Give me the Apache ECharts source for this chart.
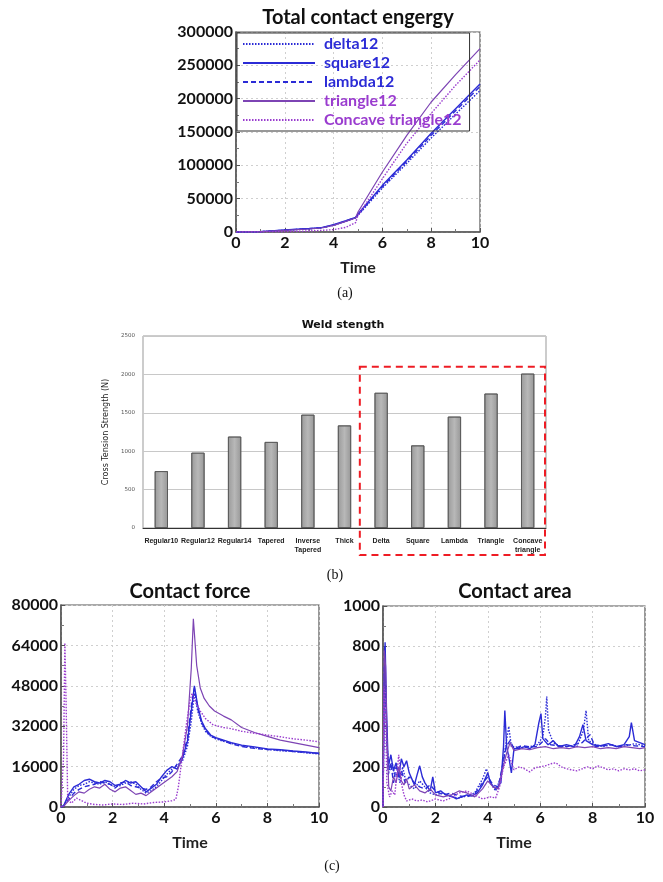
<!DOCTYPE html>
<html><head><meta charset="utf-8">
<script src="https://cdn.jsdelivr.net/npm/echarts@6/dist/echarts.min.js"></script>
<style>html,body{margin:0;padding:0;background:#fff}#c{width:663px;height:882px}</style>
</head><body><div id="c"></div>
<script>
// ---------- (a) Total contact energy ----------
const energyTime = [0,1,2,3,3.5,4,4.5,4.9,5,6,7,8,9,10];
const energyDelta = [0,400,2800,4800,6000,10000,16000,21000,25000,66000,103000,141000,177000,212000];
const energySquare = [0,500,3000,5200,6500,11000,17000,22000,27000,70000,108000,148000,185000,222000];
const energyLambda = [0,450,2900,5000,6300,10500,16500,21500,26000,68000,106000,145000,182000,218000];
const energyTriangle = [0,500,2500,4500,6000,10000,16000,21000,30000,90000,145000,195000,236000,275000];
const energyConcave = [0,0,500,1500,2500,3500,7000,14000,25000,80000,133000,178000,220000,258000];
const seriesNames = ['delta12','square12','lambda12','triangle12','Concave triangle12'];

// ---------- (b) Weld strength ----------
const weldCategories = ['Regular10','Regular12','Regular14','Tapered','Inverse\nTapered','Thick','Delta','Square','Lambda','Triangle','Concave\ntriangle'];
const weldValues = [740,980,1190,1120,1475,1335,1760,1075,1450,1750,2010];

// ---------- (c) Contact force ----------
const forceDelta = [[0,0],[0.1,300],[0.3,4000],[0.5,7000],[0.7,8500],[0.9,9000],[1.1,10000],[1.3,9500],[1.5,9000],[1.7,10000],[1.9,9000],[2.1,8000],[2.3,8500],[2.5,9500],[2.7,10000],[2.9,9000],[3.1,7000],[3.3,5500],[3.5,6500],[3.7,8000],[3.9,10500],[4.1,13000],[4.3,15000],[4.5,16500],[4.7,18000],[4.9,24000],[5.05,34000],[5.17,45000],[5.3,38000],[5.45,33000],[5.6,30000],[5.8,28000],[6.0,27000],[6.3,26000],[6.6,25200],[7.0,24200],[7.5,23500],[8.0,22800],[8.5,22300],[9.0,22000],[9.5,21500],[10,21000]];
const forceSquare = [[0,0],[0.1,500],[0.3,5000],[0.5,8000],[0.7,9000],[0.9,10500],[1.1,11000],[1.3,10000],[1.5,9500],[1.7,10500],[1.9,10000],[2.1,8500],[2.3,9000],[2.5,10500],[2.7,9500],[2.9,10000],[3.1,8000],[3.3,6000],[3.5,7500],[3.7,9000],[3.9,12000],[4.1,14500],[4.3,16000],[4.5,15000],[4.7,19000],[4.9,26000],[5.05,38000],[5.17,48000],[5.3,40000],[5.45,34000],[5.6,31000],[5.8,28500],[6.0,27500],[6.3,26500],[6.6,25500],[7.0,24500],[7.5,23800],[8.0,23000],[8.5,22700],[9.0,22200],[9.5,21800],[10,21200]];
const forceLambda = [[0,0],[0.1,400],[0.3,3000],[0.5,5500],[0.7,7000],[0.9,8000],[1.1,8500],[1.3,9000],[1.5,10000],[1.7,9500],[1.9,9000],[2.1,7500],[2.3,9500],[2.5,10000],[2.7,8500],[2.9,8000],[3.1,7500],[3.3,7000],[3.5,8000],[3.7,10000],[3.9,11500],[4.1,12000],[4.3,14000],[4.5,17000],[4.7,20000],[4.9,27000],[5.05,40000],[5.17,47000],[5.3,39000],[5.45,33500],[5.6,30500],[5.8,28000],[6.0,27200],[6.3,26200],[6.6,25000],[7.0,24000],[7.5,23200],[8.0,22800],[8.5,22500],[9.0,22000],[9.5,21600],[10,21300]];
const forceTriangle = [[0,0],[0.1,300],[0.3,2500],[0.5,4500],[0.7,6000],[0.9,5500],[1.1,7000],[1.3,8000],[1.5,7500],[1.7,9000],[1.9,7000],[2.1,6000],[2.3,7500],[2.5,8000],[2.7,6500],[2.9,5000],[3.1,5500],[3.3,4500],[3.5,6000],[3.7,7500],[3.9,9000],[4.1,10500],[4.3,12000],[4.5,14000],[4.7,20000],[4.9,32000],[5.05,55000],[5.13,74500],[5.26,56000],[5.4,47000],[5.55,43000],[5.75,40000],[5.95,38000],[6.3,36000],[6.6,34500],[7.0,31500],[7.5,29500],[8.0,28000],[8.5,26500],[9.0,25500],[9.5,24500],[10,23500]];
const forceConcave = [[0,0],[0.1,20000],[0.15,65000],[0.2,40000],[0.26,3000],[0.4,1500],[0.6,3500],[0.8,2500],[1.0,1500],[1.3,1000],[1.6,800],[2.0,1200],[2.4,1000],[2.8,1500],[3.2,1200],[3.6,1800],[4.0,2000],[4.3,2500],[4.45,3000],[4.55,8000],[4.7,20000],[4.85,32000],[5.0,42000],[5.08,45000],[5.2,42000],[5.4,38000],[5.6,35000],[5.9,32500],[6.3,31500],[6.6,31000],[7.0,30000],[7.5,29200],[8.0,28500],[8.5,27800],[9.0,27000],[9.5,26500],[10,25800]];

// ---------- (c) Contact area ----------
const areaDelta = [[0,0],[0.05,700],[0.1,600],[0.15,300],[0.25,180],[0.35,220],[0.45,150],[0.55,170],[0.65,120],[0.75,200],[0.85,140],[1.0,110],[1.2,90],[1.4,130],[1.6,100],[1.8,70],[2.0,60],[2.3,70],[2.6,50],[2.9,45],[3.2,55],[3.5,70],[3.8,140],[3.95,190],[4.1,120],[4.3,80],[4.5,150],[4.7,320],[4.8,400],[4.9,300],[5.0,300],[5.3,295],[5.6,300],[5.9,310],[6.1,350],[6.2,450],[6.25,550],[6.32,380],[6.5,320],[6.8,300],[7.1,305],[7.4,300],[7.65,380],[7.75,480],[7.85,330],[8.1,310],[8.4,300],[8.7,310],[9.0,300],[9.3,305],[9.6,315],[10,305]];
const areaSquare = [[0,0],[0.04,500],[0.08,820],[0.13,500],[0.2,200],[0.3,260],[0.4,180],[0.5,220],[0.6,150],[0.7,240],[0.8,200],[0.9,230],[1.0,170],[1.1,140],[1.2,110],[1.3,160],[1.4,205],[1.5,150],[1.6,120],[1.7,100],[1.8,80],[1.9,150],[2.0,70],[2.2,80],[2.4,60],[2.6,55],[2.8,40],[3.0,50],[3.2,60],[3.4,55],[3.6,70],[3.8,110],[4.0,170],[4.1,120],[4.3,90],[4.5,120],[4.6,300],[4.65,480],[4.72,300],[4.8,250],[4.9,170],[5.0,290],[5.2,290],[5.4,300],[5.6,290],[5.8,310],[5.95,420],[6.03,465],[6.1,340],[6.3,310],[6.5,330],[6.7,300],[7.0,310],[7.3,300],[7.5,350],[7.63,410],[7.75,330],[8.0,310],[8.3,305],[8.6,315],[8.9,300],[9.2,310],[9.4,350],[9.48,420],[9.6,330],[9.8,320],[10,310]];
const areaLambda = [[0,0],[0.06,800],[0.12,450],[0.2,160],[0.3,220],[0.4,120],[0.5,200],[0.6,140],[0.7,180],[0.85,120],[1.0,150],[1.2,120],[1.4,100],[1.6,90],[1.8,110],[2.0,80],[2.3,60],[2.6,70],[2.9,55],[3.2,50],[3.5,65],[3.8,120],[4.0,150],[4.2,110],[4.4,100],[4.55,200],[4.7,300],[4.85,330],[5.0,290],[5.3,305],[5.6,300],[5.9,300],[6.2,340],[6.4,310],[6.7,305],[7.0,300],[7.3,310],[7.6,320],[7.9,360],[8.1,300],[8.4,305],[8.7,310],[9.0,300],[9.3,310],[9.6,305],[10,300]];
const areaTriangle = [[0,0],[0.05,780],[0.1,700],[0.15,350],[0.22,100],[0.3,80],[0.4,150],[0.5,120],[0.6,200],[0.7,130],[0.8,110],[0.9,140],[1.0,90],[1.2,110],[1.4,80],[1.6,70],[1.8,90],[2.0,60],[2.3,50],[2.6,60],[2.9,80],[3.2,70],[3.5,50],[3.8,90],[4.0,130],[4.2,100],[4.4,90],[4.55,180],[4.7,260],[4.85,320],[5.0,280],[5.3,290],[5.6,285],[5.9,295],[6.2,300],[6.5,290],[6.8,295],[7.1,290],[7.4,300],[7.7,295],[8.0,300],[8.3,290],[8.6,295],[8.9,290],[9.2,300],[9.5,295],[9.8,290],[10,295]];
const areaConcave = [[0,0],[0.05,600],[0.1,400],[0.15,120],[0.25,50],[0.35,80],[0.45,60],[0.6,260],[0.7,120],[0.8,60],[0.9,30],[1.1,40],[1.3,30],[1.5,35],[1.7,25],[2.0,40],[2.3,30],[2.6,45],[2.9,70],[3.2,80],[3.5,60],[3.8,40],[4.1,50],[4.3,45],[4.45,100],[4.6,200],[4.8,260],[5.0,185],[5.2,200],[5.4,190],[5.6,175],[5.8,195],[6.0,200],[6.2,205],[6.4,215],[6.6,220],[6.8,200],[7.0,190],[7.2,185],[7.4,180],[7.6,190],[7.8,200],[8.0,190],[8.2,205],[8.4,195],[8.6,185],[8.8,190],[9.0,180],[9.2,190],[9.4,185],[9.6,190],[9.8,180],[10,185]];

const BLUE = '#2b2bd6', PURPLE = '#9a3ccf', PURPLE2 = '#7d44b4';
const FONT = 'Lato';
const styles = [
  {color: BLUE, type: [1.5, 1.5], width: 1.4},
  {color: BLUE, type: 'solid', width: 1.4},
  {color: BLUE, type: [5, 3], width: 1.4},
  {color: PURPLE2, type: 'solid', width: 1.2},
  {color: PURPLE, type: [1.5, 1.5], width: 1.4}
];

function lineSeries(name, data, k, axis) {
  return {
    name: name, type: 'line', data: data, xAxisIndex: axis, yAxisIndex: axis,
    symbol: 'none', showSymbol: false, animation: false,
    lineStyle: {color: styles[k].color, type: styles[k].type, width: styles[k].width},
    itemStyle: {color: styles[k].color}, z: 3
  };
}
const plain = v => String(v);

function valueXAxis(gi) {
  return {
    type: 'value', gridIndex: gi, min: 0, max: 10, interval: 2,
    name: 'Time', nameLocation: 'middle', nameGap: 28,
    nameTextStyle: {fontFamily: FONT, fontWeight: 'bold', fontSize: 16, color: '#222'},
    axisLine: {lineStyle: {color: '#555', width: 1.5}},
    axisTick: {inside: true, length: 4, lineStyle: {color: '#555'}},
    minorTick: {show: true, splitNumber: 2, length: 3, lineStyle: {color: '#777'}},
    axisLabel: {fontFamily: FONT, fontWeight: 'bold', fontSize: 16, color: '#111', margin: 3, formatter: plain},
    splitLine: {show: true, lineStyle: {color: '#cfcfcf', type: [2, 3]}}
  };
}
function valueYAxis(gi, max, interval) {
  return {
    type: 'value', gridIndex: gi, min: 0, max: max, interval: interval,
    axisLine: {show: true, lineStyle: {color: '#555', width: 1.5}},
    axisTick: {show: true, inside: true, length: 4, lineStyle: {color: '#555'}},
    minorTick: {show: true, splitNumber: 2, length: 3, lineStyle: {color: '#777'}},
    axisLabel: {fontFamily: FONT, fontWeight: 'bold', fontSize: 16, color: '#111', margin: 3, formatter: plain},
    splitLine: {show: true, lineStyle: {color: '#cfcfcf', type: [2, 3]}}
  };
}

const energyData = [energyDelta, energySquare, energyLambda, energyTriangle, energyConcave]
  .map(arr => arr.map((v, i) => [energyTime[i], v]));
const forceData = [forceDelta, forceSquare, forceLambda, forceTriangle, forceConcave];
const areaData = [areaDelta, areaSquare, areaLambda, areaTriangle, areaConcave];

const series = [];
seriesNames.forEach((n, k) => series.push(lineSeries(n, energyData[k], k, 0)));
series.push({
  name: 'Weld', type: 'bar', xAxisIndex: 1, yAxisIndex: 1, data: weldValues, barWidth: '36%',
  animation: false,
  itemStyle: {color: {type: 'linear', x: 0, y: 0, x2: 1, y2: 0, colorStops: [
    {offset: 0, color: '#9a9a9a'}, {offset: 0.5, color: '#b8b8b8'}, {offset: 1, color: '#979797'}]},
    borderColor: '#555', borderWidth: 0.8}
});
seriesNames.forEach((n, k) => series.push(lineSeries(n, forceData[k], k, 2)));
seriesNames.forEach((n, k) => series.push(lineSeries(n, areaData[k], k, 3)));

const legendColors = [BLUE, BLUE, BLUE, PURPLE, PURPLE];

const option = {
  backgroundColor: '#fff',
  animation: false,
  grid: [
    {left: 236, top: 32, width: 244, height: 200, show: true, borderColor: '#555', borderWidth: 1.2},
    {left: 143, top: 336, width: 403, height: 192, show: true, borderColor: '#999', borderWidth: 1},
    {left: 61, top: 605, width: 258, height: 202, show: true, borderColor: '#555', borderWidth: 1.2},
    {left: 383, top: 606, width: 262, height: 201, show: true, borderColor: '#555', borderWidth: 1.2}
  ],
  xAxis: [
    valueXAxis(0),
    {type: 'category', gridIndex: 1, data: weldCategories,
     axisLine: {lineStyle: {color: '#333', width: 1}}, axisTick: {show: false},
     axisLabel: {interval: 0, fontFamily: 'Liberation Sans', fontWeight: 'bold', fontSize: 7, color: '#222', margin: 9, lineHeight: 9}},
    valueXAxis(2),
    valueXAxis(3)
  ],
  yAxis: [
    valueYAxis(0, 300000, 50000),
    {type: 'value', gridIndex: 1, min: 0, max: 2500, interval: 500,
     name: 'Cross Tension Strength (N)', nameLocation: 'middle', nameGap: 30, nameRotate: 90,
     nameTextStyle: {fontFamily: 'DejaVu Sans', fontSize: 8, color: '#222'},
     axisLine: {show: false}, axisTick: {show: false},
     axisLabel: {fontFamily: 'DejaVu Sans', fontSize: 5.5, color: '#555', margin: 8, formatter: plain},
     splitLine: {show: true, lineStyle: {color: '#c8c8c8', width: 1}}},
    valueYAxis(2, 80000, 16000),
    valueYAxis(3, 1000, 200)
  ],
  legend: {
    orient: 'vertical', left: 237, top: 33, padding: [3, 8, 3, 5], itemGap: 3,
    itemWidth: 72, itemHeight: 14, borderColor: '#333', borderWidth: 1,
    backgroundColor: 'rgba(255,255,255,0)',
    itemStyle: {opacity: 0},
    data: seriesNames.map((n, k) => ({name: n, textStyle: {color: legendColors[k]}})),
    textStyle: {fontFamily: FONT, fontWeight: 'bold', fontSize: 16, padding: [0, 0, 0, 4]}
  },
  graphic: [
    {type: 'text', x: 358, y: 18, style: {text: 'Total contact engergy', fontFamily: FONT, fontWeight: 'bold', fontSize: 20, fill: '#111', textAlign: 'center', textVerticalAlign: 'middle'}},
    {type: 'text', x: 345, y: 293, style: {text: '(a)', fontFamily: 'Liberation Serif', fontSize: 14, fill: '#111', textAlign: 'center', textVerticalAlign: 'middle'}},
    {type: 'text', x: 343, y: 325, style: {text: 'Weld stength', fontFamily: 'DejaVu Sans', fontWeight: 'bold', fontSize: 11, fill: '#111', textAlign: 'center', textVerticalAlign: 'middle'}},
    {type: 'text', x: 335, y: 575, style: {text: '(b)', fontFamily: 'Liberation Serif', fontSize: 14, fill: '#111', textAlign: 'center', textVerticalAlign: 'middle'}},
    {type: 'text', x: 190, y: 592, style: {text: 'Contact force', fontFamily: FONT, fontWeight: 'bold', fontSize: 20, fill: '#111', textAlign: 'center', textVerticalAlign: 'middle'}},
    {type: 'text', x: 515, y: 592, style: {text: 'Contact area', fontFamily: FONT, fontWeight: 'bold', fontSize: 20, fill: '#111', textAlign: 'center', textVerticalAlign: 'middle'}},
    {type: 'text', x: 332, y: 866, style: {text: '(c)', fontFamily: 'Liberation Serif', fontSize: 14, fill: '#111', textAlign: 'center', textVerticalAlign: 'middle'}}
  ],
  series: series
};

const chart = echarts.init(document.getElementById('c'), null, {renderer: 'canvas'});
chart.setOption(option);

// red dashed box around the second group of categories, placed from the axis scale
const pDelta = chart.convertToPixel({xAxisIndex: 1, yAxisIndex: 1}, ['Delta', 2100]);
const pConc = chart.convertToPixel({xAxisIndex: 1, yAxisIndex: 1}, ['Concave\ntriangle', 0]);
const band = 403 / weldCategories.length;
const bx = pDelta[0] - band / 2 - 3;
const bRight = pConc[0] + band / 2 - 1;
const bTop = pDelta[1];
const bBottom = pConc[1] + 27;
chart.setOption({graphic: option.graphic.concat([{
  type: 'rect', shape: {x: bx, y: bTop, width: bRight - bx, height: bBottom - bTop},
  style: {fill: 'none', stroke: '#ee1c24', lineWidth: 2, lineDash: [7, 5]}, z: 10
}])});
</script></body></html>
